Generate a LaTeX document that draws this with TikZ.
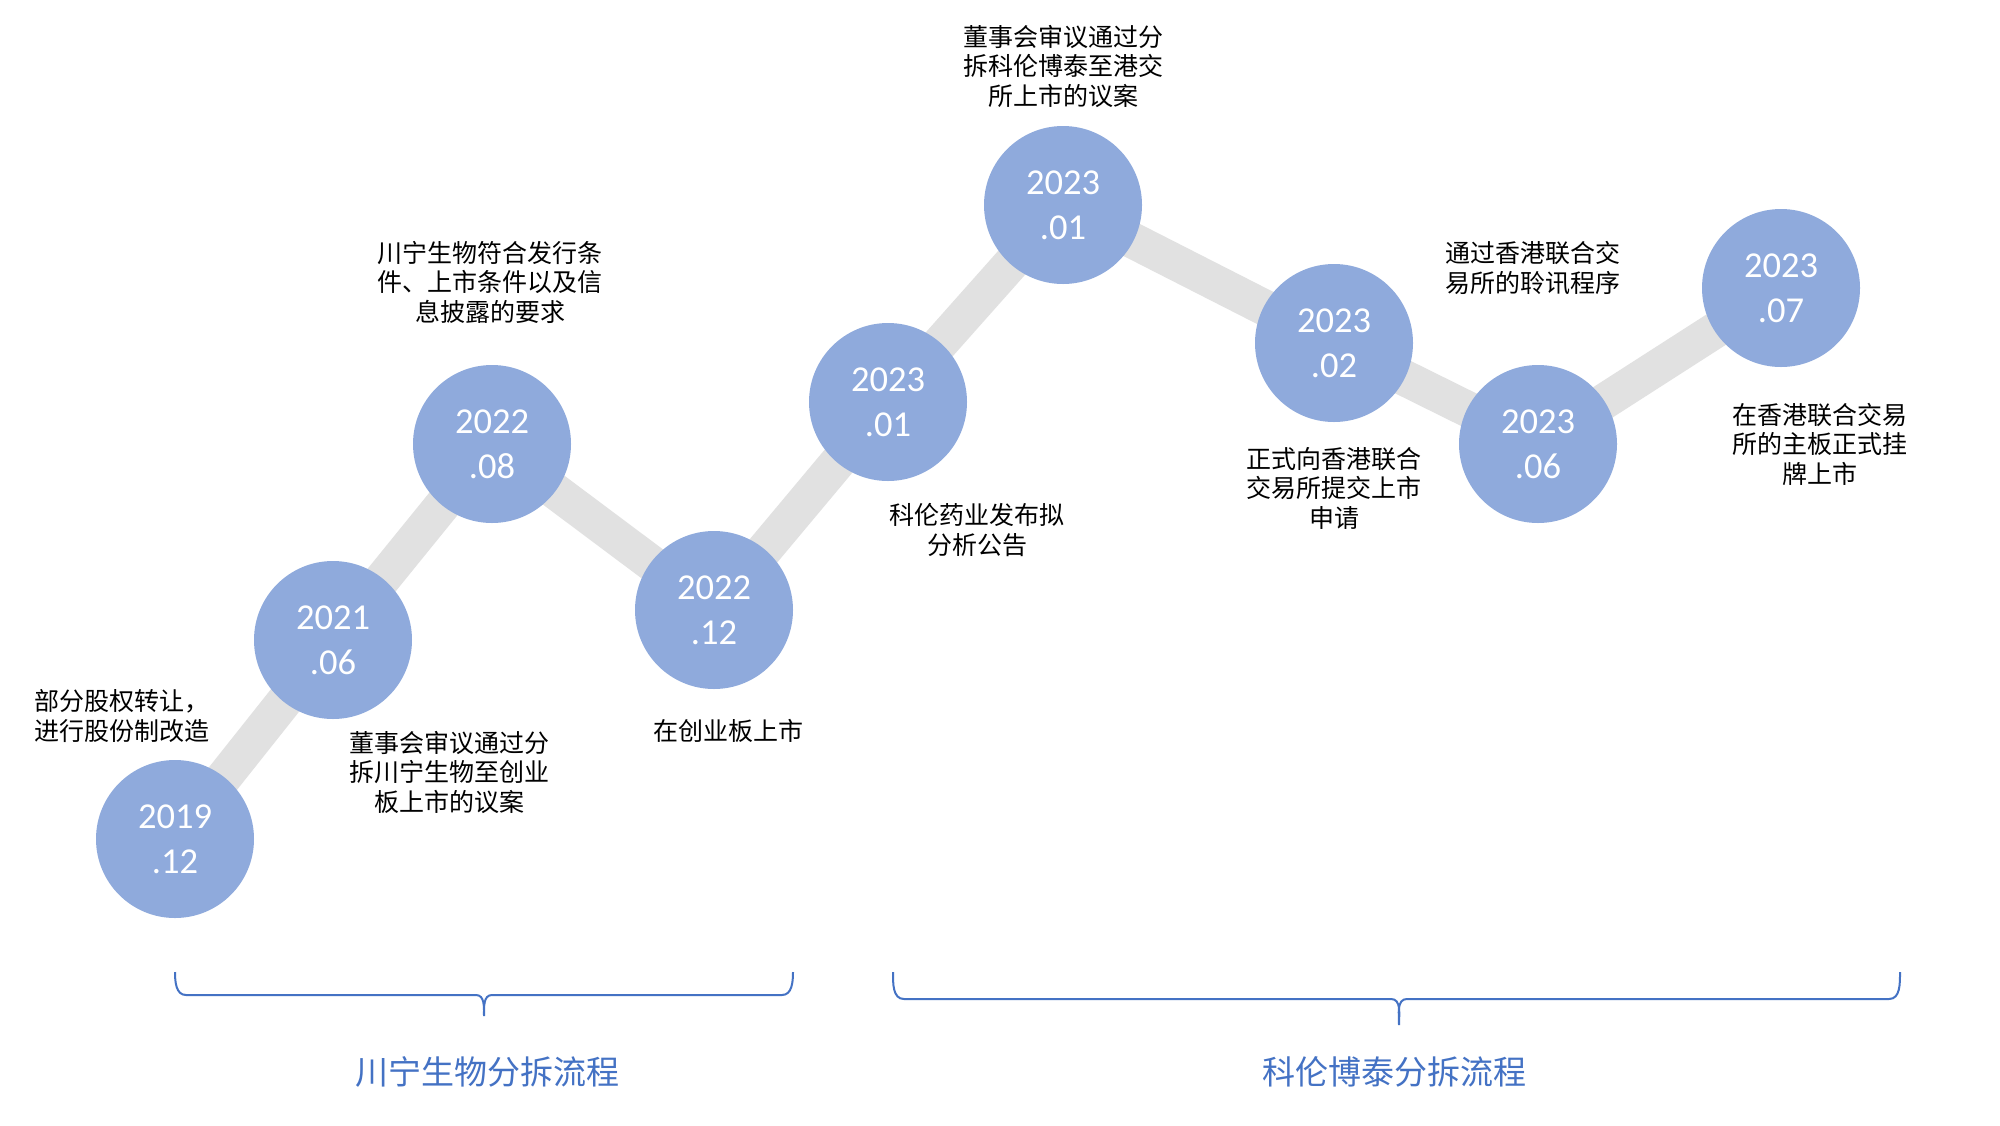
\documentclass[tikz,border=0pt]{standalone}
\usepackage{fontspec}
\setmainfont{Carlito}
\newfontfamily\cjk{Noto Sans CJK SC}
\definecolor{dotblue}{RGB}{143,170,220}
\definecolor{bandgray}{RGB}{225,225,225}
\definecolor{braceblue}{RGB}{68,114,196}
\begin{document}
\begin{tikzpicture}[x=1pt,y={(0pt,-1pt)},
  dot/.style={circle,fill=dotblue,minimum size=158pt,inner sep=0pt,text=white,
    font=\fontsize{36.5}{45}\selectfont,align=center},
  band/.style={line width=36pt,draw=bandgray},
  lbl/.style={font=\cjk\fontsize{25}{29.5}\selectfont,align=center,text=black,inner sep=0pt},
  ttl/.style={font=\cjk\fontsize{33}{40}\selectfont,text=braceblue,inner sep=0pt},
  brc/.style={draw=braceblue,line width=2pt}]
\useasboundingbox[fill=white] (0,0) rectangle (2000,1125);
% circles (positions)
\coordinate (p1) at (175,839);
\coordinate (p2) at (333,640);
\coordinate (p3) at (492,444);
\coordinate (p4) at (714,610);
\coordinate (p5) at (888,402);
\coordinate (p6) at (1063,205);
\coordinate (p7) at (1334,343);
\coordinate (p8) at (1538,444);
\coordinate (p9) at (1781,288);
\draw[band] (p1) -- (p2) -- (p3) -- (p4) -- (p5) -- (p6) -- (p7) -- (p8) -- (p9);
\node[dot] (c1) at (p1) {2019\\.12};
\node[dot] (c2) at (p2) {2021\\.06};
\node[dot] (c3) at (p3) {2022\\.08};
\node[dot] (c4) at (p4) {2022\\.12};
\node[dot] (c5) at (p5) {2023\\.01};
\node[dot] (c6) at (p6) {2023\\.01};
\node[dot] (c7) at (p7) {2023\\.02};
\node[dot] (c8) at (p8) {2023\\.06};
\node[dot] (c9) at (p9) {2023\\.07};
% labels
\node[lbl,align=left] (t1) at (122,716) {部分股权转让，\\进行股份制改造};
\node[lbl] (t2) at (449,772) {董事会审议通过分\\拆川宁生物至创业\\板上市的议案};
\node[lbl] (t3) at (490,282) {川宁生物符合发行条\\件、上市条件以及信\\息披露的要求};
\node[lbl] (t4) at (728,731) {在创业板上市};
\node[lbl] (t5) at (977,530) {科伦药业发布拟\\分析公告};
\node[lbl] (t6) at (1063,66) {董事会审议通过分\\拆科伦博泰至港交\\所上市的议案};
\node[lbl] (t7) at (1334,488) {正式向香港联合\\交易所提交上市\\申请};
\node[lbl] (t8) at (1533,268) {通过香港联合交\\易所的聆讯程序};
\node[lbl] (t9) at (1820,444) {在香港联合交易\\所的主板正式挂\\牌上市};
% braces
\coordinate (la) at (175,972);
\coordinate (lt) at (484,1016);
\coordinate (lb) at (793,972);
\draw[brc] (la) to[out=-90,in=180] (186,995) -- (476,995) to[out=0,in=90] (lt)
  to[out=90,in=180] (492,995) -- (782,995) to[out=0,in=-90] (lb);
\coordinate (ra) at (893,972);
\coordinate (rt) at (1399,1025);
\coordinate (rb) at (1900,972);
\draw[brc] (ra) to[out=-90,in=180] (904,999) -- (1391,999) to[out=0,in=90] (rt)
  to[out=90,in=180] (1407,999) -- (1889,999) to[out=0,in=-90] (rb);
\node[ttl] (g1) at (487,1072) {川宁生物分拆流程};
\node[ttl] (g2) at (1394,1072) {科伦博泰分拆流程};
\end{tikzpicture}
\end{document}
